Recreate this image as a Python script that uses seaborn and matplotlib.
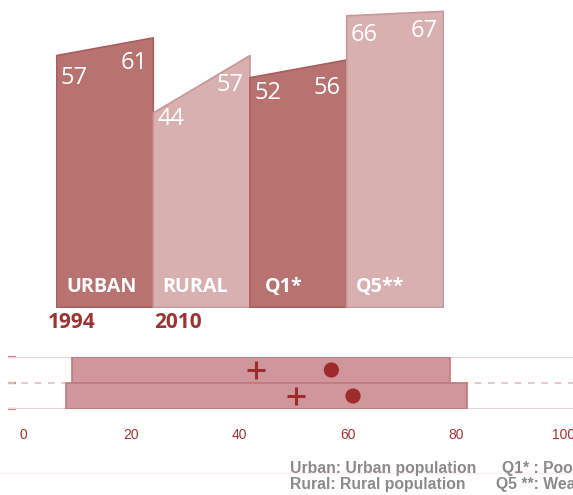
import matplotlib
matplotlib.use("Agg")
import matplotlib.pyplot as plt
import matplotlib.transforms as mtransforms
import numpy as np
import pandas as pd
import seaborn as sns

# ---------------- data ----------------
groups = ["URBAN", "RURAL", "Q1*", "Q5**"]
values_1994 = [57, 44, 52, 66]
values_2010 = [61, 57, 56, 67]
years = ["1994", "2010"]

box_rows = ["1994", "2010"]
box_low = [9, 8]
box_high = [79, 82]
plus_vals = [43, 50.5]
dot_vals = [57, 61]
xticks = [0, 20, 40, 60, 80, 100]

legend_left = ["Urban: Urban population", "Rural: Rural population"]
legend_right = ["Q1* : Poorest quintile", "Q5 **: Wealthiest quintile"]

# ---------------- style ----------------
sns.set_style("white")
plt.rcParams["font.family"] = ["Open Sans", "DejaVu Sans"]

W, H = 573, 495
fig = plt.figure(figsize=(W / 100, H / 100), dpi=100)

dark_fill, dark_edge = "#b87270", "#a85e5d"
light_fill, light_edge = "#d8b0b0", "#c99797"
fills = [dark_fill, light_fill, dark_fill, light_fill]
edges = [dark_edge, light_edge, dark_edge, light_edge]

# label offsets (pixels) for the value labels, left and right
dy_left = [-23, -6, -16, -20]
dy_right = [-26, -30, -29, -20]

# ---------------- top chart ----------------
top_px, bot_px = 0, 307
ax = fig.add_axes([56 / W, (H - bot_px) / H, 387 / W, (bot_px - top_px) / H])
ax.set_xlim(0, 4)
ax.set_ylim(0, 307 / 4.42)
ax.axis("off")

for i, g in enumerate(groups):
    xs = np.array([i, i + 1])
    ys = np.array([values_1994[i], values_2010[i]])
    ax.fill_between(xs, 0, ys, color=fills[i], edgecolor=edges[i], linewidth=1.2, zorder=2)
    ax.annotate(str(values_1994[i]), xy=(i, values_1994[i]), xytext=(18, dy_left[i]),
                textcoords="offset pixels", ha="center", va="center",
                color="white", fontsize=17)
    ax.annotate(str(values_2010[i]), xy=(i + 1, values_2010[i]), xytext=(-19, dy_right[i]),
                textcoords="offset pixels", ha="center", va="center",
                color="white", fontsize=17)
    trans = mtransforms.blended_transform_factory(ax.transData, ax.transAxes)
    ax.annotate(g, xy=(i, 20 / 307), xycoords=trans, xytext=(10 if i != 2 else 15, 0),
                textcoords="offset pixels", ha="left", va="center",
                color="white", fontsize=14.2, fontweight="bold")

# year labels under first two bars
for i, (yr, dx) in enumerate(zip(years, [-8, 1])):
    trans = mtransforms.blended_transform_factory(ax.transData, fig.transFigure)
    ax.annotate(yr, xy=(i, (H - 322) / H), xycoords=trans, xytext=(dx, 0),
                textcoords="offset pixels", ha="left", va="center",
                color="#9b3434", fontsize=15, fontweight="bold", annotation_clip=False)

# ---------------- bottom range chart ----------------
bx_left, bx_right = 8, 580
by_top, by_bot = 357, 409
ax2 = fig.add_axes([bx_left / W, (H - by_bot) / H, (bx_right - bx_left) / W, (by_bot - by_top) / H])
x0 = 23
scale = 5.41
ax2.set_xlim((bx_left - x0) / scale, (bx_right - x0) / scale)
ax2.set_ylim(1.5, -0.5)

box_fill, box_edge = "#cf979b", "#c27a7f"
for j in range(len(box_rows)):
    ax2.barh(j, box_high[j] - box_low[j], left=box_low[j], height=1.0,
             color=box_fill, edgecolor=box_edge, linewidth=1.2, zorder=3)

ax2.axhline(-0.5, color="#ecd3d4", lw=1.5, zorder=1)
ax2.axhline(1.5, color="#ecd3d4", lw=1.5, zorder=1)
ax2.axhline(0.5, color="#e4bfc1", lw=1.2, ls=(0, (4, 4)), zorder=1)

df_plus = pd.DataFrame({"x": plus_vals, "y": [0, 1]})
df_dot = pd.DataFrame({"x": dot_vals, "y": [0, 1]})
sns.scatterplot(data=df_plus, x="x", y="y", marker="+", s=180, color="#9e2a2b",
                linewidth=2.2, ax=ax2, zorder=5, legend=False)
sns.scatterplot(data=df_dot, x="x", y="y", marker="o", s=120, color="#9e2a2b",
                edgecolor="none", ax=ax2, zorder=5, legend=False)

for s in ["top", "right", "left"]:
    ax2.spines[s].set_visible(False)
ax2.spines["bottom"].set_visible(False)
ax2.spines["bottom"].set_position(("outward", 7))
ax2.set_xticks(xticks)
ax2.set_xticklabels([str(t) for t in xticks], family=["Liberation Sans", "DejaVu Sans"])
ax2.tick_params(axis="x", colors="#a03434", length=5, width=1.2, pad=1.5, labelsize=10, direction="out")
ax2.set_yticks([-0.5, 0.5, 1.5])
ax2.set_yticklabels([])
ax2.tick_params(axis="y", colors="#c98a8d", length=6, width=1.6, direction="in", left=True)
ax2.set_xlabel("")
ax2.set_ylabel("")

# ---------------- footer legend ----------------
fig.add_artist(plt.Line2D([0, 1], [(H - 473) / H] * 2, color="#fbeeee", lw=1))
leg_kw = dict(color="#8a8a8a", fontsize=11.3, fontweight="bold",
              family=["Liberation Sans", "DejaVu Sans"], va="center", ha="left")
fig.text(290 / W, (H - 468) / H, legend_left[0], **leg_kw)
fig.text(290 / W, (H - 485) / H, legend_left[1], **leg_kw)
fig.text(502 / W, (H - 468) / H, legend_right[0], **leg_kw)
fig.text(496 / W, (H - 485) / H, legend_right[1], **leg_kw)

fig.savefig("out.png", dpi=100)
